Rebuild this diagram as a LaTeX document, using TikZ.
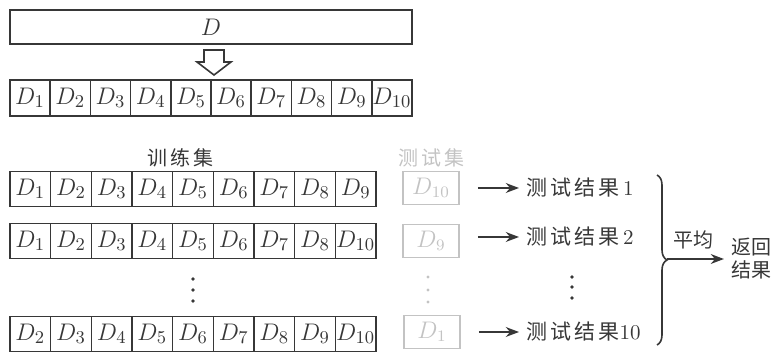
\documentclass[tikz,border=0pt]{standalone}
\usepackage{amsmath}
\usepackage{fontspec}
\usepackage{tikz}
\usetikzlibrary{arrows.meta,decorations.pathreplacing,calc,positioning}
\newfontfamily\cjk{Noto Sans CJK SC}
\newfontfamily\cjkwide[LetterSpace=15]{Noto Sans CJK SC}
\definecolor{inkgray}{RGB}{55,55,55}
\definecolor{fadegray}{RGB}{195,195,195}

\tikzset{
  cell/.style={draw=inkgray, line width=0.8pt, minimum width=20.1pt,
    minimum height=17.5pt, inner sep=0pt, text=inkgray,
    font=\fontsize{12.5}{14}\selectfont},
  testcell/.style={draw=fadegray, line width=0.8pt, minimum width=28pt,
    minimum height=16.5pt, inner sep=0pt, text=fadegray,
    font=\fontsize{12}{14}\selectfont},
  cjklabel/.style={font=\cjkwide\fontsize{10}{12}\selectfont, text=inkgray},
  result/.style={anchor=west, font=\fontsize{10.5}{12}\selectfont, text=inkgray}
}

\begin{document}
\begin{tikzpicture}[x=0.5pt, y=-0.5pt, >=Stealth,
    every node/.style={font=\fontsize{10}{12}\selectfont}]
  \useasboundingbox (0,0) rectangle (777,352);

  % ===== whole data set =====
  \node[cell, minimum width=201pt, minimum height=17pt] (whole) at (211,27) {$D$};

  % hollow arrow
  \draw[inkgray, line width=0.8pt, fill=white]
    (204,50) -- (224,50) -- (224,62) -- (231,62) -- (214,75)
    -- (197,62) -- (204,62) -- cycle;

  % ===== ten folds =====
  \foreach \i in {1,...,10}
    \node[cell, minimum height=18pt] (f\i) at ({10+40.2*(\i-0.5)},98) {$D_{\i}$};

  % ===== training sets =====
  \node[cjklabel] (trainlbl) at (180,158) {训练集};
  \foreach \row/\y/\list in {a/189/{1,2,3,4,5,6,7,8,9},
                             b/241/{1,2,3,4,5,6,7,8,10},
                             c/334/{2,3,4,5,6,7,8,9,10}}{
    \foreach \d [count=\k] in \list
      \node[cell, minimum width=20.33pt] (\row\k) at ({10+40.67*(\k-0.5)},\y) {$D_{\d}$};
  }
  \foreach \yy in {279,290,301}
    \fill[inkgray] (193,\yy) circle (0.9pt);

  % ===== test sets =====
  \node[cjklabel, text=fadegray] (testlbl) at (431,158) {测试集};
  \node[testcell] (ta) at (431,188) {$D_{10}$};
  \node[testcell] (tb) at (431,241) {$D_{9}$};
  \node[testcell] (tc) at (432,332) {$D_{1}$};
  \foreach \yy in {277,290,302}
    \fill[fadegray] (428,\yy) circle (0.8pt);

  % ===== results =====
  \node[result] (ra) at (519,188) {{\cjkwide 测试结果}\,1};
  \node[result] (rb) at (519,237) {{\cjkwide 测试结果}\,2};
  \node[result] (rc) at (519,332) {{\cjkwide 测试结果}10};
  \foreach \yy in {277,287,298}
    \fill[inkgray] (572,\yy) circle (0.9pt);

  \draw[->, inkgray, line width=0.8pt] ([xshift=9pt]ta.east) -- (ra.west);
  \draw[->, inkgray, line width=0.8pt] ([xshift=9pt]tb.east |- rb.west) -- (rb.west);
  \draw[->, inkgray, line width=0.8pt] ([xshift=9pt]tc.east) -- (rc.west);

  % brace and average
  \coordinate (btop) at (657,175);
  \coordinate (bbot) at (657,345);
  \coordinate (btip) at (667,259);
  \draw[inkgray, line width=0.8pt, decorate, decoration={brace, amplitude=5pt}]
    (btop) -- (bbot);
  \node[cjklabel, font=\cjk\fontsize{10}{12}\selectfont] (avg) at (693,240) {平均};
  \node[cjklabel, font=\cjk\fontsize{10}{11.5}\selectfont, align=center]
    (back) at (751,259) {返回\\结果};
  \draw[->, inkgray, line width=0.8pt] (btip) -- (back.west);

\end{tikzpicture}
\end{document}
